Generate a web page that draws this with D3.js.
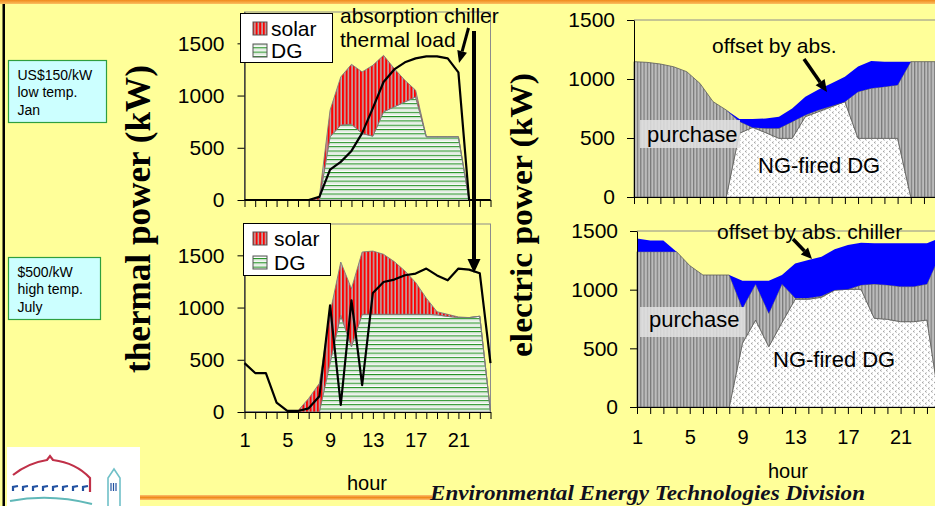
<!DOCTYPE html>
<html><head><meta charset="utf-8">
<script src="https://cdn.jsdelivr.net/npm/d3@7"></script>
<style>body{margin:0;background:#ffff99;overflow:hidden} svg{display:block}</style>
</head><body>
<svg id="chart" width="935" height="506"></svg>
<script>
// ---------------- data ----------------
const hours = [1,2,3,4,5,6,7,8,9,10,11,12,13,14,15,16,17,18,19,20,21,22,23,24];
const xTickLabels = [1,5,9,13,17,21];
const thermalTicks = [0,500,1000,1500];
const electricTicks = [0,500,1000,1500];

// January, thermal (kW)
const janDG      = [0,0,0,0,0,0,0,0,605,717,726,637,611,844,892,939,987,605,605,605,605,0,0,0];
const janSolar   = [0,0,0,0,0,0,0,32,255,461,573,589,679,541,366,207,64,0,0,0,0,0,0,0];
const janAbsLoad = [0,0,0,0,0,0,0,30,290,365,470,640,880,1130,1250,1318,1356,1375,1375,1356,1222,0,0,0];

// July, thermal (kW)
const julDG      = [0,0,0,0,0,0,0,0,470,927,624,936,936,936,936,936,936,936,930,915,905,904,917,0];
const julSolar   = [0,0,0,0,0,13,130,274,480,509,557,596,605,574,504,414,304,154,30,20,5,0,0,0];
const julAbsLoad = [468,373,373,89,10,10,35,150,1022,67,1070,258,1140,1245,1268,1309,1325,1373,1308,1261,1373,1363,1328,468];

// January, electric (kW)
const janNGDG     = [0,0,0,0,0,0,0,0,540,590,545,497,497,681,723,765,808,497,497,497,497,0,0,0];
const janPurchase = [1147,1141,1127,1104,1062,963,808,737,100,0,37,85,141,14,14,6,0,396,424,438,452,1147,1147,1147];
const janOffset   = [0,0,0,0,0,0,0,0,20,70,83,99,113,155,175,192,212,212,232,212,198,0,0,0];

// July, electric (kW)
const julNGDG     = [0,0,0,0,0,0,0,0,543,741,514,720,918,918,935,997,1003,1003,756,747,727,727,741,0];
const julPurchase = [1324,1324,1324,1324,1205,1125,1125,1125,298,307,284,328,10,10,10,0,0,37,292,293,299,299,307,1300];
const julOffset   = [113,94,94,0,0,0,0,0,236,29,279,77,296,325,336,347,378,360,347,355,369,369,347,140];

// ---------------- drawing ----------------
const svg = d3.select('#chart');
const SANS = '"Liberation Sans", Arial, sans-serif';
const SERIF = '"Liberation Serif", "Times New Roman", serif';
const fmt = d3.format('d');

svg.append('rect').attr('width',935).attr('height',506).attr('fill','#ffff99');

// patterns
const defs = svg.append('defs');
const pSolar = defs.append('pattern').attr('id','pSolar').attr('patternUnits','userSpaceOnUse').attr('width',3.6).attr('height',4);
pSolar.append('rect').attr('width',3.6).attr('height',4).attr('fill','#ff0000');
pSolar.append('rect').attr('x',2.1).attr('width',1.5).attr('height',4).attr('fill','#b4b4b4');

const pDG = defs.append('pattern').attr('id','pDG').attr('patternUnits','userSpaceOnUse').attr('width',4).attr('height',4.3);
pDG.append('rect').attr('width',4).attr('height',4.3).attr('fill','#ffffff');
pDG.append('rect').attr('y',0).attr('width',4).attr('height',1.1).attr('fill','#1f8f1f');
pDG.append('rect').attr('y',2.15).attr('width',4).attr('height',0.8).attr('fill','#c8d8c8');

const pPur = defs.append('pattern').attr('id','pPur').attr('patternUnits','userSpaceOnUse').attr('width',3.3).attr('height',4);
pPur.append('rect').attr('width',3.3).attr('height',4).attr('fill','#bcbcbc');
pPur.append('rect').attr('x',0).attr('width',1.2).attr('height',4).attr('fill','#7a7a7a');

const pNG = defs.append('pattern').attr('id','pNG').attr('patternUnits','userSpaceOnUse').attr('width',6).attr('height',6);
pNG.append('rect').attr('width',6).attr('height',6).attr('fill','#ffffff');
pNG.append('path').attr('d','M2.6,0.6 L1.2,1.5 L2.6,2.4 M5.6,3.6 L4.2,4.5 L5.6,5.4').attr('stroke','#8a8a8a').attr('stroke-width',0.8).attr('fill','none');

// decorations: top orange bar, left black line
const topGrad = defs.append('linearGradient').attr('id','gTop').attr('x1',0).attr('x2',0).attr('y1',0).attr('y2',1);
topGrad.append('stop').attr('offset','0%').attr('stop-color','#f08a1c');
topGrad.append('stop').attr('offset','100%').attr('stop-color','#fbc060');
svg.append('rect').attr('x',0).attr('y',0).attr('width',935).attr('height',4).attr('fill','url(#gTop)');
svg.append('rect').attr('x',2.5).attr('y',4).attr('width',2.5).attr('height',502).attr('fill','#000');

function axisStyle(sel, size){
  sel.selectAll('text').attr('font-family',SANS).attr('font-size',size).attr('fill','#000');
  sel.selectAll('line').attr('stroke','#000');
  sel.select('.domain').attr('stroke','#000');
}

function thermalChart(cfg){
  const x = d3.scaleLinear().domain([1,24]).range([cfg.x0, cfg.x1]);
  const y = d3.scaleLinear().domain([0,1800]).range([cfg.yb, cfg.yt]);
  const g = svg.append('g');
  g.append('rect').attr('x',cfg.x0).attr('y',y(1800)).attr('width',cfg.x1-cfg.x0).attr('height',y(0)-y(1800))
    .attr('fill','none').attr('stroke','#8c8c8c').attr('stroke-width',1);
  const rows = hours.map((h,i)=>({hour:h, dg:cfg.dg[i], solar:cfg.solar[i]}));
  const stack = d3.stack().keys(['dg','solar'])(rows);
  const area = d3.area().x(d=>x(d.data.hour)).y0(d=>y(d[0])).y1(d=>y(d[1]));
  const fills = {dg:'url(#pDG)', solar:'url(#pSolar)'};
  g.selectAll('path.ar').data(stack).join('path').attr('class','ar')
    .attr('d',area).attr('fill',d=>fills[d.key]).attr('stroke','#7c7c7c').attr('stroke-width',0.9);
  const line = d3.line().x((d,i)=>x(hours[i])).y(d=>y(d));
  g.append('path').attr('d',line(cfg.load)).attr('fill','none').attr('stroke','#000').attr('stroke-width',2.2).attr('stroke-linejoin','round');
  const ya = g.append('g').attr('transform',`translate(${cfg.x0},0)`)
    .call(d3.axisLeft(y).tickValues(thermalTicks).tickFormat(fmt).tickSize(7).tickSizeOuter(0).tickPadding(13));
  axisStyle(ya, 21);
  const xa = g.append('g').attr('transform',`translate(0,${cfg.yb})`)
    .call(d3.axisBottom(x).tickValues(hours).tickSize(7).tickSizeOuter(0).tickPadding(14)
      .tickFormat(d => cfg.labels && xTickLabels.includes(d) ? fmt(d) : ''));
  axisStyle(xa, 20);
  return {x,y,g};
}

function electricChart(cfg){
  const x = d3.scaleLinear().domain([1,24]).range([cfg.x0, cfg.x0 + 23*13.18]);
  const y = d3.scaleLinear().domain([0,1500]).range([cfg.yb, cfg.yt]);
  const g = svg.append('g');
  const rows = hours.map((h,i)=>({hour:h, dg:cfg.dg[i], purchase:cfg.purchase[i], offset:cfg.offset[i]}));
  const stack = d3.stack().keys(['dg','purchase','offset'])(rows);
  const area = d3.area().x(d=>x(d.data.hour)).y0(d=>y(d[0])).y1(d=>y(d[1]));
  const fills = {dg:'url(#pNG)', purchase:'url(#pPur)', offset:'#0000ff'};
  const strokes = {dg:'#8a8a8a', purchase:'#5a5a5a', offset:'none'};
  g.selectAll('path.ar').data(stack).join('path').attr('class','ar')
    .attr('d',area).attr('fill',d=>fills[d.key]).attr('stroke',d=>strokes[d.key]).attr('stroke-width',0.8);
  g.append('line').attr('x1',cfg.x0).attr('x2',940).attr('y1',y(1500)).attr('y2',y(1500)).attr('stroke','#8c8c8c');
  const ya = g.append('g').attr('transform',`translate(${cfg.x0},0)`)
    .call(d3.axisLeft(y).tickValues(electricTicks).tickFormat(fmt).tickSize(7).tickSizeOuter(0).tickPadding(12));
  axisStyle(ya, 21);
  const xa = g.append('g').attr('transform',`translate(0,${cfg.yb})`)
    .call(d3.axisBottom(x).tickValues(hours).tickSize(7).tickSizeOuter(0).tickPadding(16)
      .tickFormat(d => cfg.labels && xTickLabels.includes(d) ? fmt(d) : ''));
  axisStyle(xa, 20);
  return {x,y,g};
}

const tJan = thermalChart({x0:244.5, x1:490.5, yb:200, yt:12, dg:janDG, solar:janSolar, load:janAbsLoad, labels:false});
const tJul = thermalChart({x0:244.5, x1:490.5, yb:412, yt:224, dg:julDG, solar:julSolar, load:julAbsLoad, labels:true});
const eJan = electricChart({x0:634, yb:197, yt:20, dg:janNGDG, purchase:janPurchase, offset:janOffset, labels:false});
const eJul = electricChart({x0:637, yb:407, yt:231, dg:julNGDG, purchase:julPurchase, offset:julOffset, labels:true});

// legends
function legend(x, y, w, h, sy1, sy2, tx){
  const g = svg.append('g');
  g.append('rect').attr('x',x).attr('y',y).attr('width',w).attr('height',h).attr('fill','#fff').attr('stroke','#000').attr('stroke-width',1);
  g.append('rect').attr('x',253).attr('y',sy1).attr('width',14).attr('height',13).attr('fill','url(#pSolar)').attr('stroke','#555');
  g.append('rect').attr('x',253).attr('y',sy2).attr('width',14).attr('height',13).attr('fill','url(#pDG)').attr('stroke','#555');
  g.append('text').attr('x',tx).attr('y',sy1+13.5).text('solar').attr('font-family',SANS).attr('font-size',21);
  g.append('text').attr('x',tx).attr('y',sy2+14).text('DG').attr('font-family',SANS).attr('font-size',21);
}
legend(240.5, 13.5, 92, 49, 22, 44, 271);
legend(243.5, 223.5, 87, 52, 232, 256, 274);

function txt(x,y,s,size,opts={}){
  const t = svg.append('text').attr('x',x).attr('y',y).text(s)
    .attr('font-family',opts.family||SANS).attr('font-size',size).attr('fill',opts.fill||'#000');
  if(opts.anchor) t.attr('text-anchor',opts.anchor);
  if(opts.weight) t.attr('font-weight',opts.weight);
  if(opts.style) t.attr('font-style',opts.style);
  if(opts.len) t.attr('textLength',opts.len).attr('lengthAdjust','spacingAndGlyphs');
  return t;
}
function arrow(x1,y1,x2,y2,w,hl,hw){
  const a = Math.atan2(y2-y1,x2-x1);
  const bx = x2-hl*Math.cos(a), by = y2-hl*Math.sin(a);
  svg.append('line').attr('x1',x1).attr('y1',y1).attr('x2',bx).attr('y2',by).attr('stroke','#000').attr('stroke-width',w);
  const px = -Math.sin(a)*hw/2, py = Math.cos(a)*hw/2;
  svg.append('path').attr('d',`M${x2},${y2}L${bx+px},${by+py}L${bx-px},${by-py}Z`).attr('fill','#000');
}

// annotations left
txt(340, 23, 'absorption chiller', 21);
txt(340, 47, 'thermal load', 21);
arrow(468.5, 28, 459, 63, 3, 12, 10);
arrow(474, 31, 474, 273, 4, 14, 13);

// annotations right
txt(712, 53, 'offset by abs.', 21);
arrow(804, 59, 827, 92, 3.5, 12, 11);
svg.append('rect').attr('x',640).attr('y',120).attr('width',100).attr('height',28).attr('fill','rgba(226,226,226,0.85)');
txt(647, 142, 'purchase', 22);
txt(758, 173, 'NG-fired DG', 22);

txt(717, 239, 'offset by abs. chiller', 21);
arrow(793, 239, 812, 259, 3.5, 11, 10);
svg.append('rect').attr('x',640).attr('y',307).attr('width',105).attr('height',30).attr('fill','rgba(226,226,226,0.85)');
txt(649, 327, 'purchase', 22);
txt(773, 367, 'NG-fired DG', 22);

// axis titles
svg.append('text').attr('transform','translate(150,219) rotate(-90)').attr('text-anchor','middle')
  .attr('font-family',SERIF).attr('font-weight','bold').attr('font-size',35)
  .attr('textLength',308).attr('lengthAdjust','spacingAndGlyphs').text('thermal power (kW)');
svg.append('text').attr('transform','translate(532,215) rotate(-90)').attr('text-anchor','middle')
  .attr('font-family',SERIF).attr('font-weight','bold').attr('font-size',31)
  .attr('textLength',284).attr('lengthAdjust','spacingAndGlyphs').text('electric power (kW)');

txt(367, 490, 'hour', 20, {anchor:'middle'});
txt(788, 478, 'hour', 20, {anchor:'middle'});

// info boxes
function infoBox(x,y,w,h,lines){
  svg.append('rect').attr('x',x).attr('y',y).attr('width',w).attr('height',h).attr('fill','#ccffff').attr('stroke','#2f9f3f').attr('stroke-width',1.2);
  lines.forEach((s,i)=>txt(x+9, y+19+i*17.5, s, 14));
}
infoBox(8.5, 60.5, 98, 62, ['US$150/kW','low temp.','Jan']);
infoBox(8.5, 257.5, 92, 62, ['$500/kW','high temp.','July']);

// footer
svg.append('rect').attr('x',7).attr('y',447).attr('width',133).attr('height',59).attr('fill','#fff');
svg.append('path').attr('d','M13,475 Q28,463 47,460 L50,456 L53,460 Q76,463 90,478 L90,492').attr('stroke','#c03048').attr('stroke-width',2.2).attr('fill','none');
[0,1,2,3,4,5,6,7].forEach(i=>{
  const bx = 13+i*10;
  svg.append('path').attr('d',`M${bx},491 L${bx},487 L${bx+5},486`).attr('stroke','#2050a0').attr('stroke-width',2.2).attr('fill','none');
});
svg.append('path').attr('d','M10,501 Q50,493 92,504').attr('stroke','#60b8b8').attr('stroke-width',2).attr('fill','none');
svg.append('path').attr('d','M108,506 L108,478 L114,469 L120,478 L120,506').attr('stroke','#70c0c8').attr('stroke-width',1.6).attr('fill','none');
[111,113.5,116].forEach(lx=>svg.append('line').attr('x1',lx).attr('x2',lx).attr('y1',483).attr('y2',491).attr('stroke','#2050a0').attr('stroke-width',1.2));
const botGrad = defs.append('linearGradient').attr('id','gBot').attr('x1',0).attr('x2',0).attr('y1',0).attr('y2',1);
botGrad.append('stop').attr('offset','0%').attr('stop-color','#fcc070');
botGrad.append('stop').attr('offset','50%').attr('stop-color','#f08a1c');
botGrad.append('stop').attr('offset','100%').attr('stop-color','#fcc070');
svg.append('rect').attr('x',140).attr('y',495).attr('width',292).attr('height',5).attr('fill','url(#gBot)');
txt(430, 500, 'Environmental Energy Technologies Division', 20, {family:SERIF, weight:'bold', style:'italic', fill:'#101020', len:435});
</script>
</body></html>
